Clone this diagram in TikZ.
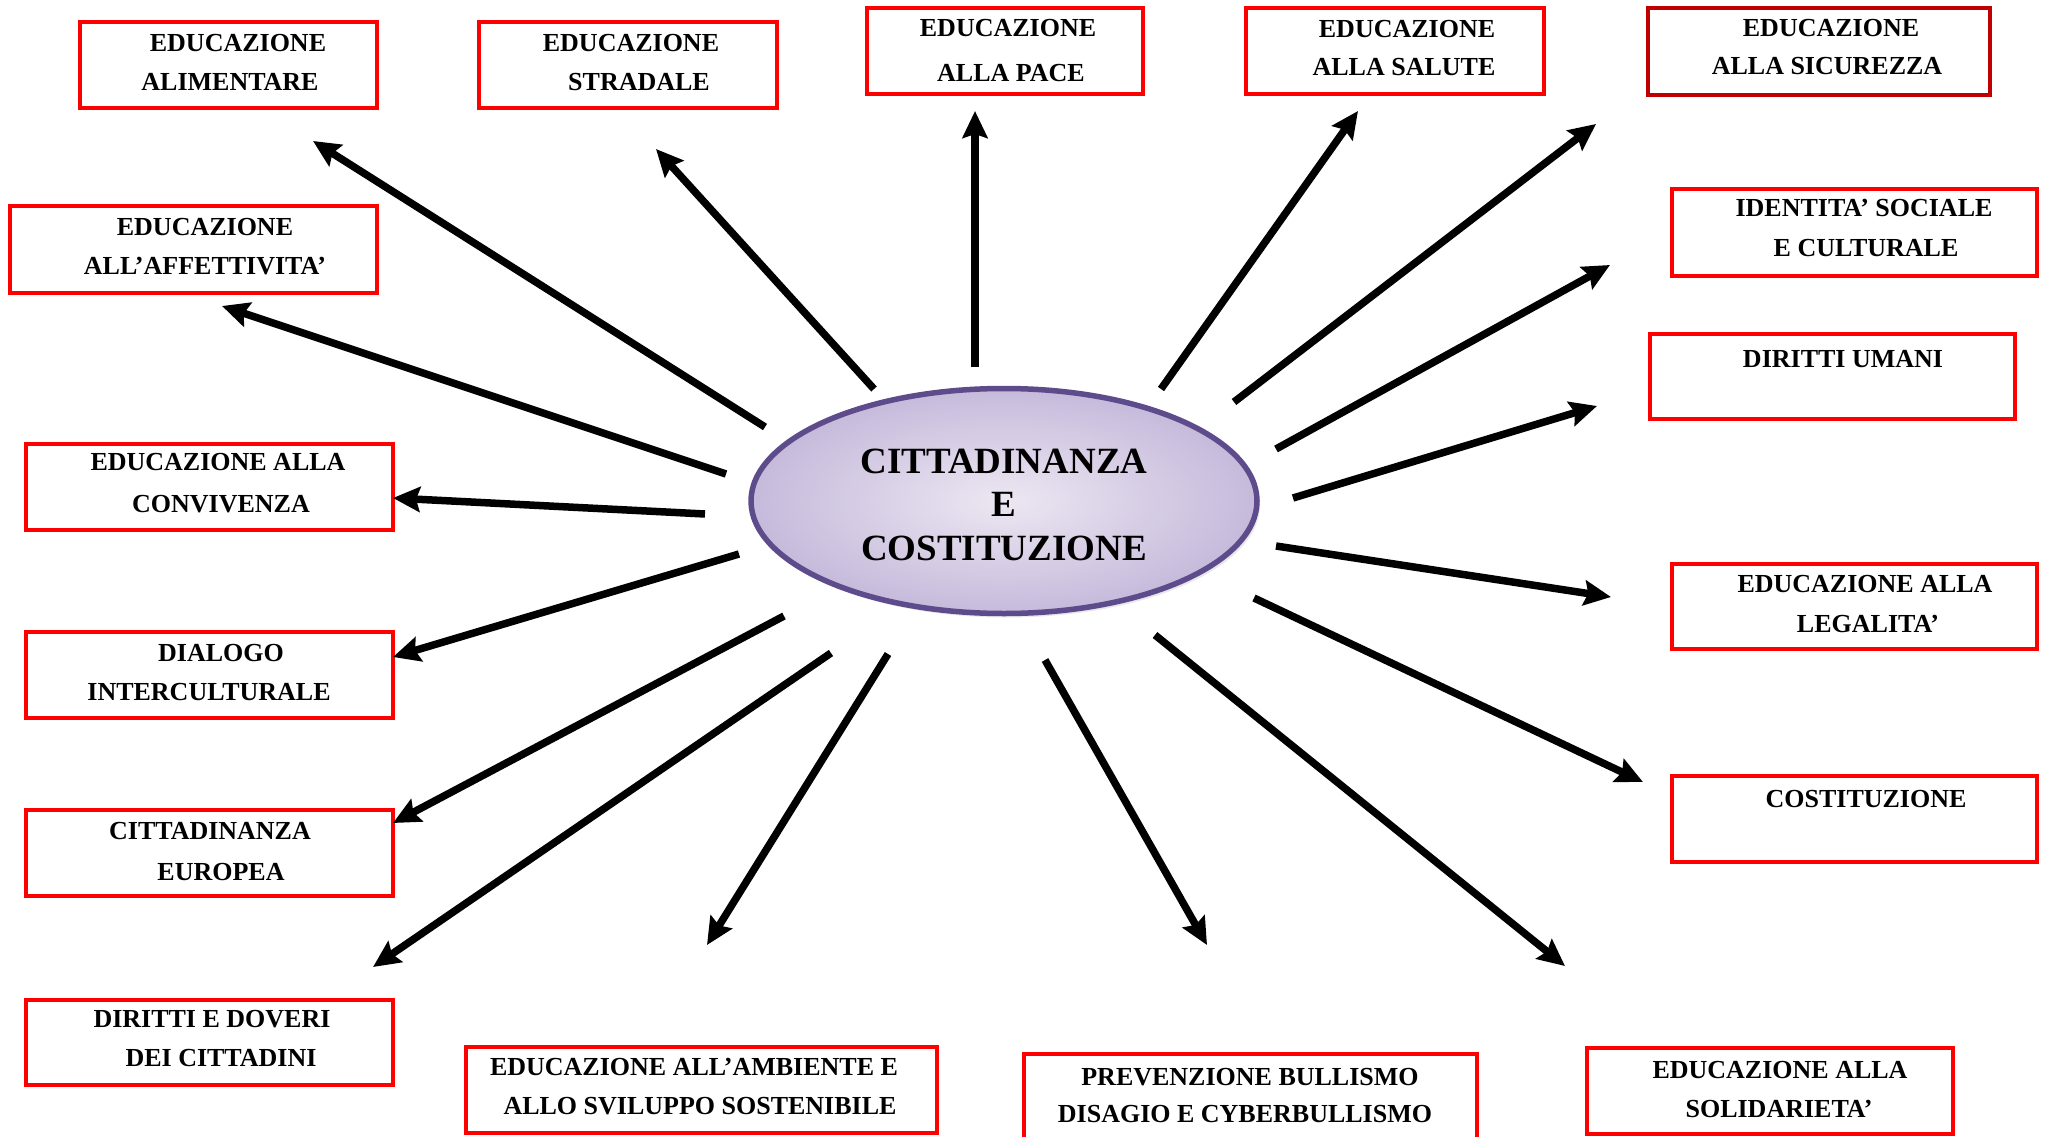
\documentclass[tikz,border=0pt]{standalone}
\usepackage{fontspec}
\setmainfont{Liberation Serif}
\usetikzlibrary{arrows.meta,shapes.geometric,shadows}
\definecolor{boxred}{HTML}{FF0000}
\definecolor{darkboxred}{HTML}{C00000}
\definecolor{ellborder}{HTML}{5E4B8C}
\definecolor{ellin}{HTML}{ECE7F2}
\definecolor{ellout}{HTML}{C6BADB}
\begin{document}
\begin{tikzpicture}[x=1pt,y=-1pt,
  redbox/.style={draw=boxred, line width=4pt, inner sep=0pt, rectangle},
  lbl/.style={font=\fontsize{26}{30}\selectfont\bfseries, inner sep=0pt, text height=17pt, text depth=0pt},
  biglbl/.style={font=\fontsize{37}{43}\selectfont\bfseries, inner sep=0pt, text height=24.5pt, text depth=0pt},
  arr/.style={line width=7.5pt, -{Stealth[length=27pt,width=25pt,inset=4pt]}},
]
\useasboundingbox (0,0) rectangle (2048,1137);
\fill[white] (0,0) rectangle (2048,1137);
\begin{scope}
\clip (0,0) rectangle (2048,1137);
% boxes
\node[redbox, minimum width=297pt, minimum height=86pt] (b1) at (228.5,65) {};
\node[redbox, minimum width=298pt, minimum height=86pt] (b2) at (628,65) {};
\node[redbox, minimum width=276pt, minimum height=86pt] (b3) at (1005,51) {};
\node[redbox, minimum width=298pt, minimum height=86pt] (b4) at (1395,51) {};
\node[redbox, draw=darkboxred, minimum width=342pt, minimum height=87pt] (b5) at (1819,51.5) {};
\node[redbox, minimum width=365pt, minimum height=87pt] (b6) at (1854.5,232.5) {};
\node[redbox, minimum width=365pt, minimum height=85pt] (b7) at (1832.5,376.5) {};
\node[redbox, minimum width=365pt, minimum height=85pt] (b8) at (1854.5,606.5) {};
\node[redbox, minimum width=365pt, minimum height=86pt] (b9) at (1854.5,819) {};
\node[redbox, minimum width=366pt, minimum height=86pt] (b10) at (1770,1091) {};
\node[redbox, minimum width=453pt, minimum height=100pt] (b11) at (1250.5,1104) {};
\node[redbox, minimum width=471pt, minimum height=86pt] (b12) at (701.5,1090) {};
\node[redbox, minimum width=367pt, minimum height=85pt] (b13) at (209.5,1042.5) {};
\node[redbox, minimum width=367pt, minimum height=86pt] (b14) at (209.5,853) {};
\node[redbox, minimum width=367pt, minimum height=86pt] (b15) at (209.5,675) {};
\node[redbox, minimum width=367pt, minimum height=86pt] (b16) at (209.5,487) {};
\node[redbox, minimum width=367pt, minimum height=87pt] (b17) at (193.5,249.5) {};
\end{scope}
% box texts
\node[lbl] (t1a) at (238,43) {EDUCAZIONE};
\node[lbl] (t1b) at (230,82) {ALIMENTARE};
\node[lbl] (t2a) at (631,43) {EDUCAZIONE};
\node[lbl] (t2b) at (639,82) {STRADALE};
\node[lbl] (t3a) at (1008,28) {EDUCAZIONE};
\node[lbl] (t3b) at (1011,73) {ALLA PACE};
\node[lbl] (t4a) at (1407,29) {EDUCAZIONE};
\node[lbl] (t4b) at (1404,67) {ALLA SALUTE};
\node[lbl] (t5a) at (1831,28) {EDUCAZIONE};
\node[lbl] (t5b) at (1827,66) {ALLA SICUREZZA};
\node[lbl] (t6a) at (1864,208) {IDENTITA’ SOCIALE};
\node[lbl] (t6b) at (1866,248) {E CULTURALE};
\node[lbl] (t7a) at (1843,359) {DIRITTI UMANI};
\node[lbl] (t8a) at (1865,584) {EDUCAZIONE ALLA};
\node[lbl] (t8b) at (1868,624) {LEGALITA’};
\node[lbl] (t9a) at (1866,799) {COSTITUZIONE};
\node[lbl] (t10a) at (1780,1070) {EDUCAZIONE ALLA};
\node[lbl] (t10b) at (1779,1109) {SOLIDARIETA’};
\node[lbl] (t11a) at (1250,1077) {PREVENZIONE BULLISMO};
\node[lbl] (t11b) at (1245,1114) {DISAGIO E CYBERBULLISMO};
\node[lbl] (t12a) at (694,1067) {EDUCAZIONE ALL’AMBIENTE E};
\node[lbl] (t12b) at (700,1106) {ALLO SVILUPPO SOSTENIBILE};
\node[lbl] (t13a) at (212,1019) {DIRITTI E DOVERI};
\node[lbl] (t13b) at (221,1058) {DEI CITTADINI};
\node[lbl] (t14a) at (210,831) {CITTADINANZA};
\node[lbl] (t14b) at (221,872) {EUROPEA};
\node[lbl] (t15a) at (221,653) {DIALOGO};
\node[lbl] (t15b) at (209,692) {INTERCULTURALE};
\node[lbl] (t16a) at (218,462) {EDUCAZIONE ALLA};
\node[lbl] (t16b) at (221,504) {CONVIVENZA};
\node[lbl] (t17a) at (205,227) {EDUCAZIONE};
\node[lbl] (t17b) at (205,266) {ALL’AFFETTIVITA’};
% central ellipse
\node[ellipse, draw=ellborder, line width=5.5pt, minimum width=506pt, minimum height=225pt,
      inner color=ellin, outer color=ellout,
      drop shadow={opacity=0.18, shadow xshift=3pt, shadow yshift=-4pt}] (c) at (1004,501) {};
\node[biglbl] (c1) at (1004,461) {CITTADINANZA};
\node[biglbl] (c2) at (1004,504) {E};
\node[biglbl] (c3) at (1004,548) {COSTITUZIONE};
% arrow endpoints
\coordinate (s1) at (765,427);  \coordinate (e1) at (313,141);
\coordinate (s2) at (874,389);  \coordinate (e2) at (656,149);
\coordinate (s3) at (975,367);  \coordinate (e3) at (975,111);
\coordinate (s4) at (1161,389); \coordinate (e4) at (1358,111);
\coordinate (s5) at (1234,402); \coordinate (e5) at (1596,124);
\coordinate (s6) at (1276,449); \coordinate (e6) at (1610,265);
\coordinate (s7) at (1293,498); \coordinate (e7) at (1597,406);
\coordinate (s8) at (1276,546); \coordinate (e8) at (1611,597);
\coordinate (s9) at (1254,598); \coordinate (e9) at (1643,782);
\coordinate (s10) at (1155,635); \coordinate (e10) at (1565,966);
\coordinate (s11) at (1045,660); \coordinate (e11) at (1207,945);
\coordinate (s12) at (888,654);  \coordinate (e12) at (707,945);
\coordinate (s13) at (831,653);  \coordinate (e13) at (373,967);
\coordinate (s14) at (784,616);  \coordinate (e14) at (393,823);
\coordinate (s15) at (739,554);  \coordinate (e15) at (393,657);
\coordinate (s16) at (705,514);  \coordinate (e16) at (393,498);
\coordinate (s17) at (726,474);  \coordinate (e17) at (222,306);
\foreach \i in {1,...,17} { \draw[arr] (s\i) -- (e\i); }
\end{tikzpicture}
\end{document}
